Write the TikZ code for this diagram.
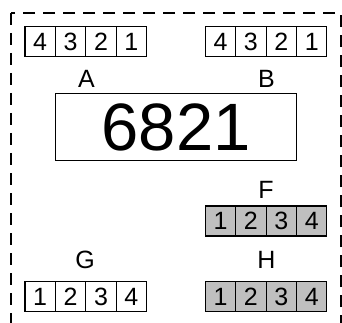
\documentclass[tikz,border=0pt]{standalone}
\usepackage{fontspec}
\setmainfont{Liberation Sans}
\usetikzlibrary{positioning}

\begin{document}
\begin{tikzpicture}[
    x=1pt, y=-1pt,
    cell/.style={
        draw, line width=1.1pt, outer sep=0pt, inner sep=0pt,
        minimum width=30.4pt, minimum height=30pt,
        font=\fontsize{25}{26}\selectfont
    },
    grey cell/.style={cell, fill=black!25},
    reg label/.style={
        inner sep=0pt,
        font=\fontsize{25}{26}\selectfont
    },
    frame/.style={
        line width=1.5pt,
        dash pattern=on 12pt off 8pt
    }
]

% Page size and outer frame
\clip (0,0) rectangle (342,323);
\draw[frame] (11,13) rectangle (341,345);

% Register A (top left)
\node[cell] (a4) at (40.2,41.7) {4};
\node[cell, right=0pt of a4] (a3) {3};
\node[cell, right=0pt of a3] (a2) {2};
\node[cell, right=0pt of a2] (a1) {1};

% Register B (top right)
\node[cell] (b4) at (220.5,41.7) {4};
\node[cell, right=0pt of b4] (b3) {3};
\node[cell, right=0pt of b3] (b2) {2};
\node[cell, right=0pt of b2] (b1) {1};

% Labels A and B
\node[reg label] (labA) at (86.5,78.5) {A};
\node[reg label] (labB) at (266.5,78.5) {B};

% Big value box
\node[draw, line width=1.2pt, minimum width=241pt, minimum height=67pt,
      inner sep=0pt, font=\fontsize{67}{68}\selectfont] (value) at (176.2,127.2) {6821};

% Register F
\node[reg label] (labF) at (266,190) {F};
\node[grey cell] (f1) at (220.5,221) {1};
\node[grey cell, right=0pt of f1] (f2) {2};
\node[grey cell, right=0pt of f2] (f3) {3};
\node[grey cell, right=0pt of f3] (f4) {4};

% Register G
\node[reg label] (labG) at (85,260) {G};
\node[cell] (g1) at (40.2,296.7) {1};
\node[cell, right=0pt of g1] (g2) {2};
\node[cell, right=0pt of g2] (g3) {3};
\node[cell, right=0pt of g3] (g4) {4};

% Register H
\node[reg label] (labH) at (266.5,260) {H};
\node[grey cell] (h1) at (220.5,296.7) {1};
\node[grey cell, right=0pt of h1] (h2) {2};
\node[grey cell, right=0pt of h2] (h3) {3};
\node[grey cell, right=0pt of h3] (h4) {4};

\end{tikzpicture}
\end{document}
